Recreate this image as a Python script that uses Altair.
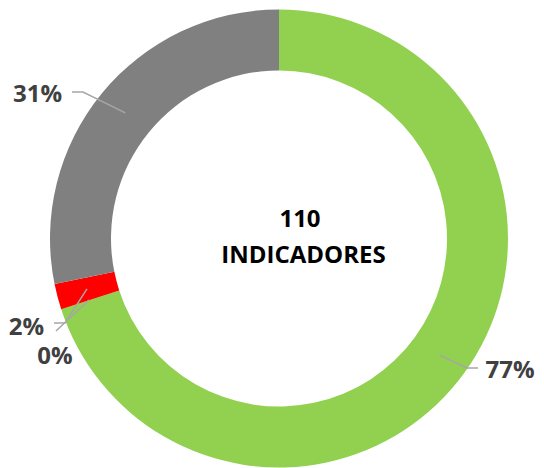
import math
import altair as alt
import pandas as pd

# ---- data ----
categories = ["Cumplidos", "No cumplidos", "Sin información", "En proceso"]
counts = [77, 2, 0, 31]
labels = ["77%", "2%", "0%", "31%"]
colors = ["#92D050", "#FF0000", "#FFC000", "#808080"]
center_title = "INDICADORES"

# ---- layout (chart pixel coordinates, not data) ----
W, H = 528, 460
CX, CY = 271, 230.5
R_OUT, R_IN = 229, 168
label_xy = {"77%": (502, 362.5), "31%": (29.5, 87), "2%": (18.5, 319.5), "0%": (47, 348.5)}
leader_elbow = {"77%": (459, 360), "31%": (75, 84), "2%": (57, 315), "0%": (48, 323)}
leader_end = {"77%": (470, 360), "31%": (64, 84), "2%": (46, 315), "0%": (48, 323)}
leader_start_override = {"0%": (81, 292)}

total = sum(counts)
df = pd.DataFrame({"cat": categories, "value": counts, "label": labels,
                   "idx": list(range(len(categories)))})

arc = alt.Chart(df).mark_arc(radius=R_OUT, innerRadius=R_IN, strokeWidth=0).encode(
    theta=alt.Theta("value:Q", stack=True),
    order=alt.Order("idx:Q"),
    color=alt.Color("cat:N", scale=alt.Scale(domain=categories, range=colors), legend=None),
    x=alt.value(CX),
    y=alt.value(CY),
)

# leader lines: start at the slice's mid-angle on the ring's middle radius
rows = []
cum = 0
r_mid = (R_OUT + R_IN) / 2
for cat, v, lab in zip(categories, counts, labels):
    mid = (cum + v / 2) / total * 2 * math.pi
    cum += v
    sx, sy = CX + r_mid * math.sin(mid), CY - r_mid * math.cos(mid)
    if lab in leader_start_override:
        sx, sy = leader_start_override[lab]
    pts = [(sx, sy), leader_elbow[lab], leader_end[lab]]
    for i, (px, py) in enumerate(pts):
        rows.append({"label": lab, "i": i, "px": px, "py": py})
lead_df = pd.DataFrame(rows)

leaders = alt.Chart(lead_df).mark_line(color="#A6A6A6", strokeWidth=1.5).encode(
    x=alt.X("px:Q", scale=None),
    y=alt.Y("py:Q", scale=None),
    detail="label:N",
    order="i:Q",
)

lab_df = pd.DataFrame({"label": labels,
                       "px": [label_xy[l][0] for l in labels],
                       "py": [label_xy[l][1] for l in labels]})
texts = alt.Chart(lab_df).mark_text(
    font="Open Sans", fontWeight="bold", fontSize=24, color="#404040",
    align="center", baseline="middle",
).encode(
    x=alt.X("px:Q", scale=None),
    y=alt.Y("py:Q", scale=None),
    text="label:N",
)

center_df = pd.DataFrame({"t": [str(total), center_title], "px": [292, 295.5], "py": [211.5, 248]})
center = alt.Chart(center_df).mark_text(
    font="Open Sans", fontWeight="bold", fontSize=24, color="#000000",
    align="center", baseline="middle",
).encode(
    x=alt.X("px:Q", scale=None),
    y=alt.Y("py:Q", scale=None),
    text="t:N",
)

chart = alt.layer(arc, leaders, texts, center).properties(
    width=W, height=H, padding=0, autosize=alt.AutoSizeParams(type="none")
).configure_view(stroke=None)

chart.save("out.html", embed_options={"renderer": "svg", "actions": False})
